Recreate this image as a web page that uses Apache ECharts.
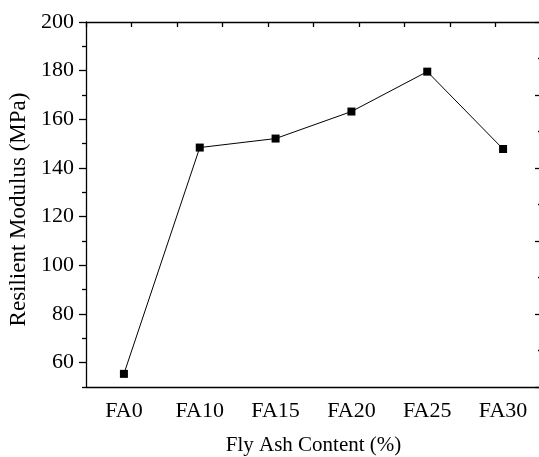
<!doctype html>
<html>
<head>
<meta charset="utf-8">
<script src="https://cdn.jsdelivr.net/npm/echarts@6/dist/echarts.min.js"></script>
<style>
  html, body { margin: 0; padding: 0; background: #fff; }
  #chart { width: 539px; height: 457px; }
</style>
</head>
<body>
<div id="chart"></div>
<script>
var categories = ['FA0', 'FA10', 'FA15', 'FA20', 'FA25', 'FA30'];
var modulus = [55.4, 148.4, 152.1, 163.2, 179.6, 147.8];
var yTicks = [60, 80, 100, 120, 140, 160, 180, 200];
var yMinorTicks = [50, 70, 90, 110, 130, 150, 170, 190];

var font = 'Liberation Serif, Times New Roman, serif';
var myChart = echarts.init(document.getElementById('chart'));
var option = {
    animation: false,
    grid: {
        left: 86,
        right: -2,
        top: 22,
        bottom: 70,
        containLabel: false,
        outerBoundsMode: 'none'
    },
    xAxis: [{
        type: 'category',
        data: categories,
        boundaryGap: true,
        name: 'Fly Ash Content (%)',
        nameLocation: 'middle',
        nameGap: 48,
        nameTextStyle: { fontFamily: font, fontSize: 21, color: '#000' },
        axisLine: { lineStyle: { color: '#000', width: 1.3 } },
        axisTick: { alignWithLabel: true, length: 7, lineStyle: { color: '#000', width: 1.3 } },
        axisLabel: { fontFamily: font, fontSize: 22, color: '#000', margin: 13 },
        splitLine: { show: false }
    }, {
        type: 'value',
        position: 'top',
        min: 0,
        max: 10,
        interval: 1,
        axisLine: { show: true, onZero: false, lineStyle: { color: '#000', width: 1.3 } },
        axisTick: { show: true, inside: true, length: 5, lineStyle: { color: '#000', width: 1.3 } },
        axisLabel: { show: false },
        splitLine: { show: false }
    }],
    yAxis: [{
        type: 'value',
        min: 50,
        max: 200,
        interval: 10,
        name: 'Resilient Modulus (MPa)',
        nameLocation: 'middle',
        nameGap: 47,
        nameTextStyle: { fontFamily: font, fontSize: 23, color: '#000', padding: [0, 10, 0, 0] },
        axisLine: { show: true, lineStyle: { color: '#000', width: 1.3 } },
        axisTick: { show: false },
        axisLabel: {
            fontFamily: font, fontSize: 22, color: '#000', margin: 12,
            formatter: function (v) { return yTicks.indexOf(v) >= 0 ? String(v) : ''; }
        },
        splitLine: { show: false }
    }, {
        // major ticks on the left axis
        type: 'value',
        position: 'left',
        min: 50,
        max: 200,
        interval: 10,
        axisLine: { show: false },
        axisTick: {
            show: true, length: 7,
            lineStyle: { color: '#000', width: 1.3 },
            customValues: yTicks
        },
        axisLabel: { show: false },
        splitLine: { show: false }
    }, {
        type: 'value',
        position: 'right',
        min: 0,
        max: 10,
        interval: 2,
        axisLine: { show: false },
        axisTick: { show: true, inside: true, length: 6, lineStyle: { color: '#000', width: 1.3 } },
        minorTick: { show: true, splitNumber: 2, length: 3, lineStyle: { color: '#000', width: 1.3 } },
        axisLabel: { show: false },
        splitLine: { show: false }
    }, {
        // minor ticks on the left axis
        type: 'value',
        position: 'left',
        min: 50,
        max: 200,
        interval: 10,
        axisLine: { show: false },
        axisTick: {
            show: true, length: 4,
            lineStyle: { color: '#000', width: 1.3 },
            customValues: yMinorTicks
        },
        axisLabel: { show: false },
        splitLine: { show: false }
    }],
    series: [{
        type: 'line',
        xAxisIndex: 0,
        yAxisIndex: 0,
        data: modulus,
        symbol: 'rect',
        symbolSize: 8,
        lineStyle: { color: '#000', width: 1 },
        itemStyle: { color: '#000' }
    }]
};
myChart.setOption(option);
</script>
</body>
</html>
